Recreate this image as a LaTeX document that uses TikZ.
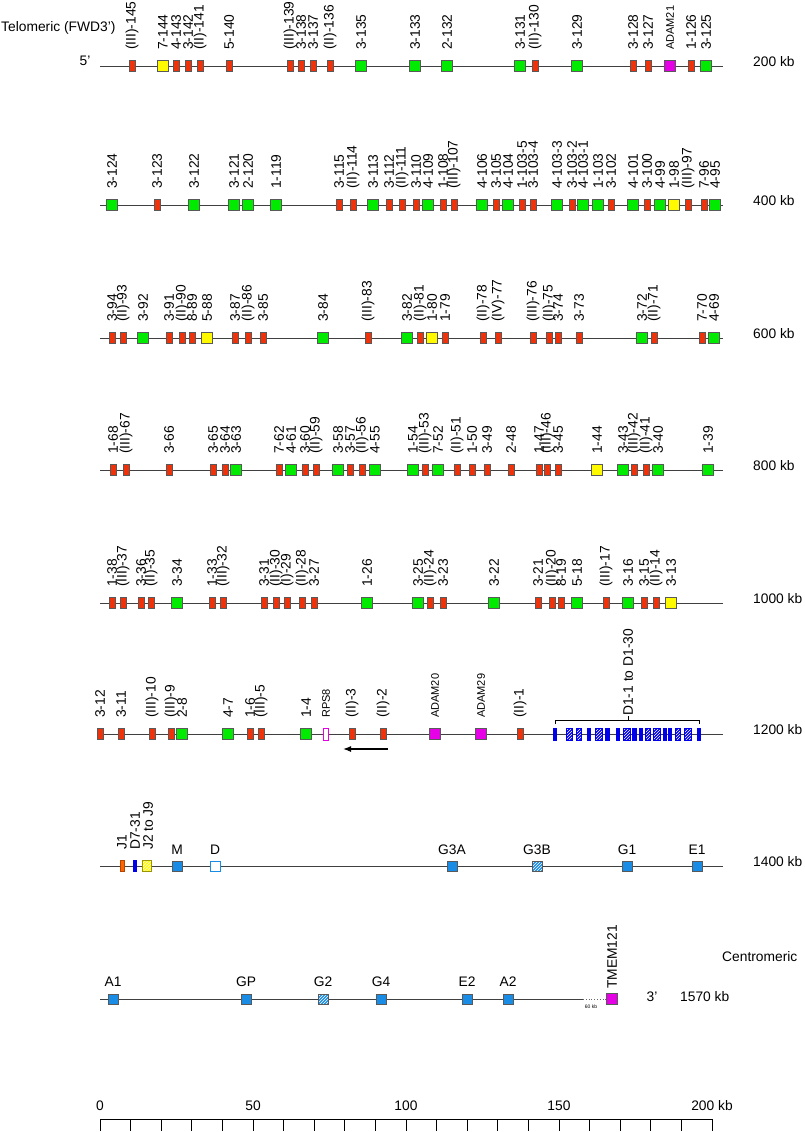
\documentclass[tikz,border=0pt]{standalone}
\usepackage{fontspec}
\setmainfont{Liberation Sans}
\usetikzlibrary{patterns,arrows.meta}

\definecolor{genered}{RGB}{240,50,10}
\definecolor{genegreen}{RGB}{0,235,0}
\definecolor{geneyellow}{RGB}{255,250,0}
\definecolor{genemag}{RGB}{230,0,230}
\definecolor{genedblue}{RGB}{0,0,235}
\definecolor{geneblue}{RGB}{25,140,230}
\definecolor{geneorange}{RGB}{255,100,0}

\newcommand{\labfont}{\fontsize{13.8}{15}\selectfont}
\newcommand{\smallfont}{\fontsize{11}{12}\selectfont}

\tikzset{
  gene/.style={draw=black!65, line width=0.6pt, inner sep=0pt, minimum height=11pt},
  rg/.style={gene, fill=genered, minimum width=6pt},
  gg/.style={gene, fill=genegreen, minimum width=11pt},
  yg/.style={gene, fill=geneyellow, minimum width=11pt},
  mg/.style={gene, fill=genemag, minimum width=11pt},
  bg/.style={gene, fill=geneblue, minimum width=10pt, minimum height=10pt},
  bh/.style={bg, preaction={fill=geneblue}, pattern=north east lines, pattern color=white},
  ds/.style={gene, draw=genedblue, fill=genedblue},
  dh/.style={ds, preaction={fill=genedblue}, pattern=north east lines, pattern color=white},
  rowline/.style={draw=black!75, line width=0.8pt},
  lab/.style={rotate=90, anchor=west, inner sep=0pt, font=\labfont},
  slab/.style={rotate=90, anchor=west, inner sep=0pt, font=\smallfont},
  hlab/.style={inner sep=0pt, font=\labfont},
}

% one row of the map: id, y, list of x/kind/name
\newcommand{\genrow}[3]{%
  \draw[rowline] (100,#2) -- (723,#2);
  \foreach \x/\gk/\gn [count=\i] in {#3}{
    \node[\gk] (g#1-\i) at (\x,#2) {};
    \node[lab] (t#1-\i) at (\x,#2-16) {\gn};
  }
}

\begin{document}
\begin{tikzpicture}[x=1pt, y=-1pt]
  \useasboundingbox (0,0) rectangle (805,1132);

  \node[hlab, anchor=west] (telo) at (1,28) {Telomeric (FWD3')};
  \node[hlab] (five) at (85,61) {5'};

  % row 1
  \genrow{1}{66}{132/rg/(III)-145, 163/yg/7-144, 176/rg/4-143, 188/rg/3-142, 200/rg/(II)-141,
    229/rg/5-140, 290/rg/(III)-139, 301/rg/3-138, 313/rg/3-137, 330/rg/(II)-136, 361/gg/3-135,
    415/gg/3-133, 447/gg/2-132, 520/gg/3-131, 535/rg/(II)-130, 577/gg/3-129, 633/rg/3-128,
    648/rg/3-127, 691/rg/1-126, 706/gg/3-125}
  \node[mg] (adam21) at (670,66) {};
  \node[slab] (adam21t) at (670,50) {ADAM21};

  % row 2
  \genrow{2}{205}{112/gg/3-124, 157/rg/3-123, 194/gg/3-122, 234/gg/3-121, 248/gg/2-120,
    276/gg/1-119, 339/rg/3-115, 353/rg/(II)-114, 373/gg/3-113, 389/rg/3-112, 402/rg/(II)-111,
    416/rg/3-110, 428/gg/4-109, 443/rg/1-108, 454/rg/(III)-107, 482/gg/4-106, 496/rg/3-105,
    508/gg/4-104, 522/rg/1-103-5, 533/rg/3-103-4, 557/gg/4-103-3, 572/rg/3-103-2,
    583/gg/4-103-1, 598/gg/1-103, 611/rg/3-102, 633/gg/4-101, 647/rg/3-100, 660/gg/4-99,
    674/yg/1-98, 688/rg/(III)-97, 704/rg/7-96, 715/gg/4-95}

  % row 3
  \genrow{3}{338}{112/rg/3-94, 123/rg/(II)-93, 143/gg/3-92, 169/rg/3-91, 182/rg/(II)-90,
    192/rg/8-89, 207/yg/5-88, 235/rg/3-87, 248/rg/(II)-86, 263/rg/3-85, 323/gg/3-84,
    368/rg/(III)-83, 407/gg/3-82, 420/rg/(II)-81, 432/yg/1-80, 445/rg/1-79, 483/rg/(II)-78,
    498/rg/(IV)-77, 533/rg/(III)-76, 549/rg/(II)-75, 558/rg/3-74, 579/rg/3-73, 642/gg/3-72,
    654/rg/(II)-71, 702/rg/7-70, 714/gg/4-69}

  % row 4
  \genrow{4}{470}{113/rg/1-68, 126/rg/(III)-67, 169/rg/3-66, 213/rg/3-65, 225/rg/3-64,
    236/gg/3-63, 279/rg/7-62, 291/gg/4-61, 305/rg/3-60, 316/rg/(II)-59, 338/gg/3-58,
    350/rg/3-57, 362/rg/(II)-56, 375/gg/4-55, 413/gg/1-54, 425/rg/(III)-53, 438/gg/7-52,
    457/rg/(II)-51, 472/rg/1-50, 487/rg/3-49, 511/rg/2-48, 539/rg/1-47, 547/rg/(III)-46,
    558/rg/3-45, 597/yg/1-44, 623/gg/3-43, 634/rg/(III)-42, 646/rg/(II)-41, 658/gg/3-40,
    708/gg/1-39}

  % row 5
  \genrow{5}{603}{112/rg/1-38, 123/rg/(III)-37, 141/rg/3-36, 151/rg/(II)-35, 177/gg/3-34,
    212/rg/1-33, 223/rg/(III)-32, 264/rg/3-31, 276/rg/(II)-30, 287/rg/(I)-29, 302/rg/(II)-28,
    314/rg/3-27, 367/gg/1-26, 418/gg/3-25, 430/rg/(II)-24, 443/rg/3-23, 494/gg/3-22,
    538/rg/3-21, 552/rg/(II)-20, 561/rg/8-19, 577/gg/5-18, 606/rg/(III)-17, 628/gg/3-16,
    644/rg/3-15, 656/rg/(II)-14, 671/yg/3-13}

  % row 6
  \genrow{6}{734}{100/rg/3-12, 121/rg/3-11, 152/rg/(III)-10, 171/rg/(III)-9, 182/gg/2-8,
    228/gg/4-7, 250/rg/1-6, 261/rg/(III)-5, 306/gg/1-4, 352/rg/(II)-3, 383/rg/(II)-2,
    520/rg/(II)-1}
  \node[gene, draw=genemag, fill=white, minimum width=5pt, minimum height=12pt] (rps8) at (326,734) {};
  \node[slab] (rps8t) at (326,718) {RPS8};
  \node[mg] (adam20) at (435,734) {};
  \node[slab] (adam20t) at (435,718) {ADAM20};
  \node[mg] (adam29) at (481,734) {};
  \node[slab] (adam29t) at (481,718) {ADAM29};
  \foreach \x/\w/\gk [count=\i] in {555/3/ds, 569/6/dh, 579/5/dh, 589/3/ds, 599/7/dh, 607/4/ds,
    618/3/ds, 627/7/dh, 634/4/ds, 641/3/ds, 648/5/dh, 657/7/dh, 665/3/ds, 670/3/ds,
    678/5/dh, 688/7/dh, 699/3/ds}
    \node[\gk, minimum width=\w pt, minimum height=12pt] (d-\i) at (\x,734) {};
  \coordinate (brl) at (555,724);
  \coordinate (brr) at (699,724);
  \coordinate (brm) at (628,720);
  \draw[line width=0.7pt] (brl) -- ++(0,-4) -| (brr);
  \draw[line width=0.7pt] (brm) -- ++(0,-4) node[lab, anchor=west] (dlab) {D1-1 to D1-30};
  \coordinate (dirA) at (388,749);
  \coordinate (dirB) at (343,749);
  \draw[-{Latex[length=8pt,width=6pt]}, line width=1.3pt] (dirA) -- (dirB);

  % row 7
  \draw[rowline] (100,866) -- (723,866);
  \node[gene, fill=geneorange, draw=geneorange!70!black, minimum width=4pt] (j1) at (122,866) {};
  \node[ds, minimum width=3pt] (d731) at (135,866) {};
  \node[gene, draw=geneyellow!60!black, preaction={fill=geneyellow}, pattern=north east lines,
    pattern color=white, minimum width=9pt] (j29) at (147,866) {};
  \node[lab] (j1t) at (122,850) {J1};
  \node[lab] (d731t) at (135,850) {D7-31};
  \node[lab] (j29t) at (148,850) {J2 to J9};
  \foreach \x/\gk/\gn [count=\i] in {177/bg/M, 452/bg/G3A, 537/bh/G3B, 627/bg/G1, 697/bg/E1}{
    \node[\gk] (c-\i) at (\x,866) {};
    \node[hlab] (ct-\i) at (\x,850) {\gn};
  }
  \node[gene, draw=geneblue, fill=white, minimum width=10pt, minimum height=10pt] (cd) at (215,866) {};
  \node[hlab] (cdt) at (215,850) {D};

  % row 8
  \draw[rowline] (100,999) -- (583,999);
  \draw[draw=black!60, dotted, line width=0.8pt] (583,999) -- (606,999);
  \draw[rowline] (606,999) -- (617,999);
  \node[font=\fontsize{5}{6}\selectfont, inner sep=0pt] (gap) at (591,1007) {60 kb};
  \foreach \x/\gk/\gn [count=\i] in {113/bg/A1, 246/bg/GP, 323/bh/G2, 381/bg/G4, 467/bg/E2, 508/bg/A2}{
    \node[\gk] (e-\i) at (\x,999) {};
    \node[hlab] (et-\i) at (\x,982) {\gn};
  }
  \node[mg] (tmem) at (612,999) {};
  \node[lab] (tmemt) at (612,989) {TMEM121};
  \node[hlab, anchor=west] (centro) at (722,957) {Centromeric};
  \node[hlab] (three) at (652,997) {3'};
  \node[hlab, anchor=west] (k1570) at (680,997) {1570 kb};

  % right hand positions
  \foreach \y/\kb [count=\i] in {62/200, 201/400, 334/600, 466/800, 599/1000, 730/1200, 862/1400}
    \node[hlab, anchor=west] (kb-\i) at (753,\y) {\kb\ kb};

  % scale bar
  \draw[line width=0.7pt] (100,1119) -- (712,1119);
  \foreach \k in {0,...,20}
    \draw[line width=0.7pt] (100+30.6*\k,1119) -- ++(0,12);
  \foreach \v [count=\i] in {0,50,100,150}
    \node[hlab] (s-\i) at (100+3.06*\v,1106) {\v};
  \node[hlab] (s-5) at (712,1106) {200 kb};
\end{tikzpicture}
\end{document}
